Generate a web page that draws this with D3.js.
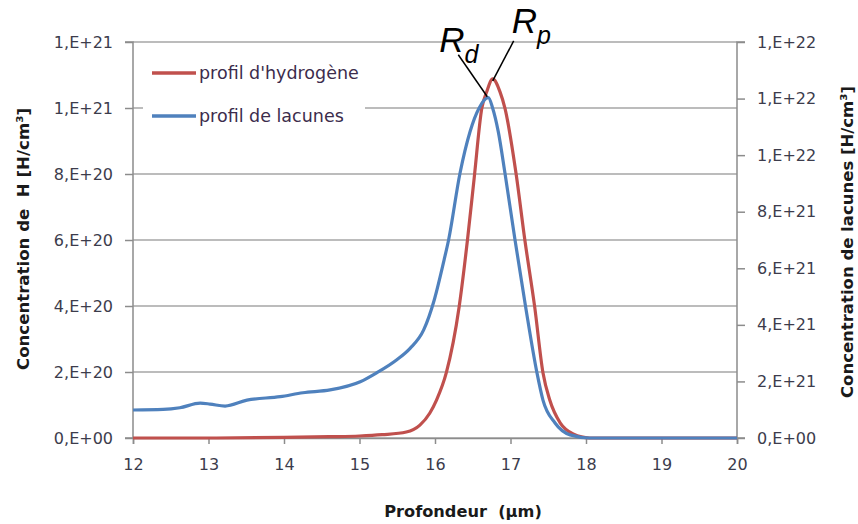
<!DOCTYPE html>
<html><head><meta charset="utf-8">
<script src="https://cdn.jsdelivr.net/npm/d3@7"></script>
<style>
body{margin:0;background:#fff;}
svg{display:block;}
text{font-family:"DejaVu Sans",sans-serif;white-space:pre;}
</style></head>
<body><svg id="c" width="858" height="524"></svg>
<script>
// ---- data ----
const hydrogenDepth = [12.0,13.0,14.0,14.6,15.0,15.3,15.62,15.80,15.93,16.02,16.15,16.32,16.43,16.52,16.62,16.685,16.764,16.861,16.927,17.073,17.19,17.32,17.43,17.52,17.66,17.83,18.05,19.0,20.0];
const hydrogenValues = [0,0,0.02e20,0.04e20,0.06e20,0.10e20,0.18e20,0.39e20,0.75e20,1.15e20,1.98e20,3.98e20,6.0e20,7.9e20,9.99e20,10.49e20,10.88e20,10.49e20,9.99e20,8.02e20,6.0e20,3.98e20,1.98e20,1.15e20,0.45e20,0.12e20,0,0,0];
const vacancyDepth = [12.0,12.40,12.62,12.89,13.02,13.22,13.51,13.95,14.25,14.61,15.01,15.23,15.49,15.67,15.85,15.99,16.12,16.18,16.331,16.464,16.583,16.706,16.764,16.838,16.927,17.06,17.20,17.35,17.43,17.59,17.79,18.05,19.0,20.0];
const vacancyValues = [0.99e21,1.01e21,1.07e21,1.23e21,1.20e21,1.13e21,1.34e21,1.46e21,1.60e21,1.70e21,1.99e21,2.31e21,2.76e21,3.17e21,3.82e21,4.88e21,6.29e21,7.00e21,9.36e21,10.83e21,11.66e21,12.03e21,11.66e21,10.83e21,9.36e21,7.00e21,4.64e21,2.31e21,1.34e21,0.53e21,0.11e21,0,0,0];
const xTicks = [12,13,14,15,16,17,18,19,20];
const leftTicks = [0,2e20,4e20,6e20,8e20,1.0e21,1.2e21];
const leftTickLabels = ["0,E+00","2,E+20","4,E+20","6,E+20","8,E+20","1,E+21","1,E+21"];
const rightTicks = [0,2e21,4e21,6e21,8e21,1.0e22,1.2e22,1.4e22];
const rightTickLabels = ["0,E+00","2,E+21","4,E+21","6,E+21","8,E+21","1,E+22","1,E+22","1,E+22"];
const seriesNames = ["profil d'hydrogène","profil de lacunes"];
const seriesColors = ["#c0504d","#4f81bd"];

// ---- layout ----
const L=133,R=737,T=42,B=438;
const svg=d3.select("#c");
const x=d3.scaleLinear().domain([12,20]).range([L,R]);
const yL=d3.scaleLinear().domain([0,1.2e21]).range([B,T]);
const yR=d3.scaleLinear().domain([0,1.4e22]).range([B,T]);
const tickCol="#3c3c4c", axisCol="#8c8c8c", gridCol="#a6a6a6";

// gridlines
svg.append("g").selectAll("line").data(leftTicks).join("line")
  .attr("x1",L).attr("x2",R).attr("y1",d=>yL(d)).attr("y2",d=>yL(d))
  .attr("stroke",gridCol).attr("stroke-width",1.5);

// axes
const ax=svg.append("g").attr("transform",`translate(0,${B})`)
  .call(d3.axisBottom(x).tickValues(xTicks).tickSize(6).tickPadding(15).tickFormat(d=>d));
const ay=svg.append("g").attr("transform",`translate(${L},0)`)
  .call(d3.axisLeft(yL).tickValues(leftTicks).tickSize(8).tickPadding(12).tickFormat((d,i)=>leftTickLabels[i]));
const ar=svg.append("g").attr("transform",`translate(${R},0)`)
  .call(d3.axisRight(yR).tickValues(rightTicks).tickSize(8).tickPadding(12).tickFormat((d,i)=>rightTickLabels[i]));
[ax,ay,ar].forEach(g=>{
  g.selectAll("path").attr("stroke",axisCol).attr("stroke-width",1.5);
  g.selectAll("line").attr("stroke",axisCol).attr("stroke-width",1.5);
  g.selectAll("text").attr("fill",tickCol).style("font-size","16px").style("font-family","DejaVu Sans");
});
ay.select(".domain").attr("d",`M-8,${T}H0V${B}H-8`);
ar.select(".domain").attr("d",`M8,${T}H0V${B}H8`);

// legend background
svg.append("rect").attr("x",143).attr("y",55).attr("width",222).attr("height",72).attr("fill","#fff");

// lines
const curve=d3.curveMonotoneX;
const lineH=d3.line().x((d,i)=>x(hydrogenDepth[i])).y(d=>yL(d)).curve(curve);
const lineV=d3.line().x((d,i)=>x(vacancyDepth[i])).y(d=>yR(d)).curve(curve);
svg.append("path").attr("d",lineH(hydrogenValues)).attr("fill","none").attr("stroke",seriesColors[0]).attr("stroke-width",3.2).attr("stroke-linejoin","round");
svg.append("path").attr("d",lineV(vacancyValues)).attr("fill","none").attr("stroke",seriesColors[1]).attr("stroke-width",3.2).attr("stroke-linejoin","round");

// legend
const lg=svg.append("g");
seriesNames.forEach((n,i)=>{
  const yy=73+i*43;
  lg.append("line").attr("x1",152).attr("x2",196).attr("y1",yy).attr("y2",yy).attr("stroke",seriesColors[i]).attr("stroke-width",3.5);
  lg.append("text").attr("x",199).attr("y",yy+6).text(n).attr("fill","#3c2c4c").style("font-size","17.5px");
});

// axis titles
svg.append("text").attr("transform","translate(29,239) rotate(-90)").attr("text-anchor","middle")
  .style("font-size","16.6px").style("font-weight","bold").attr("fill","#1a1a1a").text("Concentration de  H [H/cm³]");
svg.append("text").attr("transform","translate(853,242) rotate(-90)").attr("text-anchor","middle")
  .style("font-size","16.5px").style("font-weight","bold").attr("fill","#1a1a1a").text("Concentration de lacunes [H/cm³]");
svg.append("text").attr("x",463).attr("y",517).attr("text-anchor","middle")
  .style("font-size","16.2px").style("font-weight","bold").attr("fill","#1a1a1a").text("Profondeur  (µm)");

// annotations Rd / Rp
const iV=vacancyValues.indexOf(d3.max(vacancyValues));
const iH=hydrogenValues.indexOf(d3.max(hydrogenValues));
const pV=[x(vacancyDepth[iV]),yR(vacancyValues[iV])];
const pH=[x(hydrogenDepth[iH]),yL(hydrogenValues[iH])];
svg.append("line").attr("x1",pV[0]-1).attr("y1",pV[1]-1).attr("x2",pV[0]-30).attr("y2",pV[1]-43).attr("stroke","#000").attr("stroke-width",1.5);
svg.append("line").attr("x1",pH[0]).attr("y1",pH[1]+2).attr("x2",pH[0]+21).attr("y2",pH[1]-38).attr("stroke","#000").attr("stroke-width",1.5);
const ann=(px,py,main,sub)=>{
  const t=svg.append("text").attr("x",px).attr("y",py).style("font-family","Liberation Sans, Arial, sans-serif").style("font-style","italic").attr("fill","#000");
  t.append("tspan").style("font-size","35px").text(main);
  t.append("tspan").attr("dy",11).style("font-size","25px").text(sub);
};
ann(pV[0]-49,pV[1]-46,"R","d");
ann(pH[0]+19,pH[1]-46,"R","p");
</script></body></html>
